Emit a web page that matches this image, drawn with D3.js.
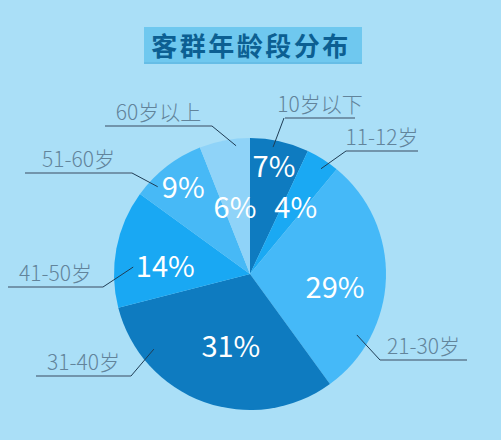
<!DOCTYPE html>
<html><head><meta charset="utf-8">
<script src="https://cdn.jsdelivr.net/npm/d3@7"></script>
<style>
html,body{margin:0;padding:0;background:#aadff7;}
svg{display:block;}
</style></head>
<body>
<script>
// ---- data ----
const categories = ["10岁以下","11-12岁","21-30岁","31-40岁","41-50岁","51-60岁","60岁以上"];
const values = [7, 4, 29, 31, 14, 9, 6];
const colors = ["#0e7bc0","#1aa9f3","#45b9f8","#0e7bc0","#19a8f3","#47b9f6","#8fd3f8"];
const title = "客群年龄段分布";

// ---- layout (styling / placement, not data) ----
const W = 501, H = 440, cx = 250, cy = 274, R = 136;
// percent label: radius and angle offset (deg) from slice mid-angle
const pctLayout = [[110,0],[81,2],[86,7],[75,-5],[85,-6],[109,0],[68,-2]];
// leader: inner point (angle deg from top, radius), elbow (dx,dy from centre), underline x-range
const leaderLayout = [
  {a:10.3, r:129, ex:34,  ey:-156, x0:285, x1:355},
  {a:34,   r:127, ex:96,  ey:-123, x0:346, x1:418},
  {a:119.7,r:123, ex:130, ey:86,   x0:380, x1:467},
  {a:232,  r:122, ex:-119,ey:102,  x0:36,  x1:131},
  {a:273.4,r:117, ex:-147,ey:13,   x0:8,   x1:103},
  {a:313.4,r:127, ex:-118,ey:-101, x0:25,  x1:132},
  {a:353.8,r:129, ex:-38, ey:-148, x0:105, x1:212}
];

const svg = d3.select("body").append("svg").attr("width",W).attr("height",H);
svg.append("rect").attr("width",W).attr("height",H).attr("fill","#aadff7");

// title
svg.append("rect").attr("x",144).attr("y",27).attr("width",218).attr("height",37).attr("fill","#6fc8ef");
svg.append("rect").attr("x",144).attr("y",62).attr("width",218).attr("height",2).attr("fill","#66bde6");
svg.append("text").attr("x",251).attr("y",56).attr("text-anchor","middle")
  .attr("font-family","'Noto Sans CJK SC', sans-serif").attr("font-weight","bold")
  .attr("font-size",26).attr("letter-spacing",2.5).attr("fill","#0c5f92").text(title);

const pie = d3.pie().sort(null).value(d=>d);
const arcs = pie(values);
const arc = d3.arc().innerRadius(0).outerRadius(R);
const g = svg.append("g").attr("transform",`translate(${cx},${cy})`);

g.selectAll("path.slice").data(arcs).join("path").attr("class","slice")
  .attr("d",arc).attr("fill",(d,i)=>colors[i]);

// percent labels
g.selectAll("text.pct").data(arcs).join("text").attr("class","pct")
  .attr("x",(d,i)=>{const a=(d.startAngle+d.endAngle)/2+pctLayout[i][1]*Math.PI/180;return Math.sin(a)*pctLayout[i][0];})
  .attr("y",(d,i)=>{const a=(d.startAngle+d.endAngle)/2+pctLayout[i][1]*Math.PI/180;return -Math.cos(a)*pctLayout[i][0];})
  .attr("dy","0.36em").attr("text-anchor","middle")
  .attr("font-family","'Noto Sans CJK SC','Noto Sans',sans-serif").attr("font-size",29)
  .attr("fill","#ffffff").text(d=>d.data+"%");

// leaders + labels
const lab = svg.append("g");
leaderLayout.forEach((L,i)=>{
  const a = L.a*Math.PI/180;
  const px = cx + Math.sin(a)*L.r, py = cy - Math.cos(a)*L.r;
  const ex = cx + L.ex, ey = cy + L.ey;
  lab.append("line").attr("x1",px).attr("y1",py).attr("x2",ex).attr("y2",ey)
    .attr("stroke","#1f3d55").attr("stroke-width",1);
  lab.append("line").attr("x1",L.x0).attr("y1",ey).attr("x2",L.x1).attr("y2",ey)
    .attr("stroke","#5f7d93").attr("stroke-width",1.6);
  lab.append("text").attr("x",(L.x0+L.x1)/2).attr("y",ey-6).attr("text-anchor","middle")
    .attr("font-family","'Noto Sans CJK SC','Noto Sans',sans-serif").attr("font-size",21).attr("font-weight",300)
    .attr("fill","#62849b").text(categories[i]);
});
</script>
</body></html>
